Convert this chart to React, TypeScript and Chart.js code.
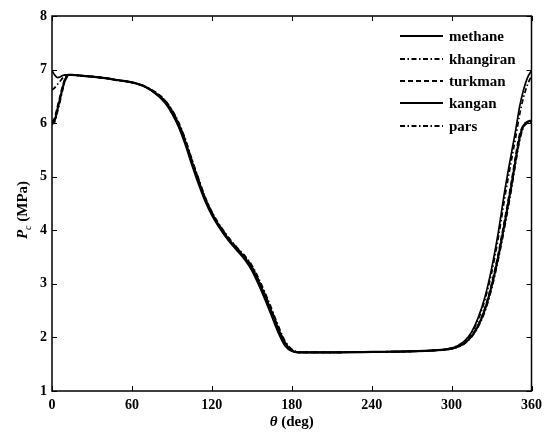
import { useEffect, useRef } from "react";
import { Chart, registerables } from "chart.js";
Chart.register(...registerables);

const thetaDeg = [0, 2, 4, 6, 8, 10, 12, 15, 20, 30, 40, 50, 60, 70, 80, 85, 90, 95, 100, 105, 110, 115, 120, 125, 130, 135, 140, 145, 150, 155, 160, 165, 170, 175, 180, 185, 190, 200, 240, 280, 300, 305, 310, 315, 320, 325, 330, 335, 340, 345, 348, 351, 354, 357, 360];

const methane = [6.0, 6.05, 6.25, 6.45, 6.66, 6.82, 6.9, 6.9, 6.89, 6.87, 6.84, 6.8, 6.76, 6.68, 6.52, 6.4, 6.22, 5.98, 5.66, 5.28, 4.92, 4.58, 4.32, 4.1, 3.92, 3.76, 3.62, 3.48, 3.3, 3.05, 2.77, 2.47, 2.15, 1.89, 1.76, 1.72, 1.72, 1.72, 1.73, 1.75, 1.79, 1.83, 1.9, 2.02, 2.22, 2.52, 2.95, 3.5, 4.15, 4.85, 5.3, 5.72, 5.95, 6.02, 6.05];

const khangiran = [6.62, 6.66, 6.72, 6.78, 6.84, 6.88, 6.9, 6.9, 6.89, 6.87, 6.84, 6.8, 6.76, 6.68, 6.53, 6.42, 6.25, 6.02, 5.71, 5.33, 4.97, 4.62, 4.35, 4.13, 3.95, 3.79, 3.65, 3.52, 3.35, 3.11, 2.83, 2.53, 2.21, 1.93, 1.78, 1.73, 1.72, 1.72, 1.73, 1.75, 1.8, 1.85, 1.93, 2.08, 2.33, 2.7, 3.2, 3.85, 4.62, 5.32, 5.72, 6.15, 6.48, 6.72, 6.88];

const turkman = [6.02, 6.1, 6.3, 6.5, 6.7, 6.84, 6.89, 6.9, 6.89, 6.87, 6.84, 6.8, 6.76, 6.68, 6.54, 6.42, 6.24, 6.0, 5.69, 5.31, 4.95, 4.61, 4.34, 4.12, 3.94, 3.78, 3.64, 3.5, 3.33, 3.08, 2.8, 2.5, 2.18, 1.91, 1.77, 1.72, 1.72, 1.72, 1.73, 1.75, 1.79, 1.83, 1.9, 2.03, 2.24, 2.55, 3.0, 3.56, 4.22, 4.92, 5.38, 5.78, 5.97, 6.03, 6.05];

const kangan = [6.98, 6.9, 6.85, 6.86, 6.89, 6.9, 6.9, 6.9, 6.89, 6.87, 6.84, 6.8, 6.76, 6.68, 6.5, 6.37, 6.18, 5.93, 5.6, 5.22, 4.86, 4.54, 4.28, 4.07, 3.89, 3.73, 3.59, 3.44, 3.25, 2.99, 2.7, 2.39, 2.08, 1.84, 1.74, 1.72, 1.72, 1.72, 1.73, 1.75, 1.8, 1.85, 1.94, 2.1, 2.37, 2.75, 3.28, 3.95, 4.75, 5.45, 5.85, 6.3, 6.62, 6.85, 6.98];

const pars = [5.98, 6.02, 6.2, 6.4, 6.62, 6.8, 6.88, 6.9, 6.89, 6.87, 6.84, 6.8, 6.76, 6.68, 6.51, 6.39, 6.21, 5.97, 5.64, 5.26, 4.9, 4.57, 4.31, 4.09, 3.91, 3.75, 3.61, 3.47, 3.28, 3.03, 2.75, 2.45, 2.13, 1.88, 1.75, 1.72, 1.72, 1.72, 1.73, 1.75, 1.79, 1.82, 1.89, 2.01, 2.2, 2.48, 2.9, 3.45, 4.08, 4.78, 5.24, 5.66, 5.92, 6.0, 6.02];

const seriesNames = ["methane", "khangiran", "turkman", "kangan", "pars"];
const xTickValues = [0, 60, 120, 180, 240, 300, 360];
const yTickValues = [1, 2, 3, 4, 5, 6, 7, 8];

const DASH_DOT = [5, 2.5, 1.5, 2.5];
const DASHED = [5, 3];
const FONT = "'Liberation Serif', 'Times New Roman', serif";

export default function App() {
  const ref = useRef<HTMLCanvasElement>(null);
  useEffect(() => {
    document.body.style.margin = "0";
    const canvas = ref.current!;
    const values = [methane, khangiran, turkman, kangan, pars];
    const dashes = [[], DASH_DOT, DASHED, [], DASH_DOT];
    const widths = [2.2, 1.7, 1.7, 1.7, 1.7];
    const datasets = seriesNames.map((name, k) => ({
      label: name,
      data: thetaDeg.map((t, i) => ({ x: t, y: values[k][i] })),
      borderColor: "#000",
      backgroundColor: "#000",
      borderWidth: widths[k],
      borderDash: dashes[k],
      pointRadius: 0,
      fill: false,
      cubicInterpolationMode: "monotone" as const,
    }));

    const framePlugin = {
      id: "frame",
      afterDraw(chart: any) {
        const { ctx, chartArea: a, scales } = chart;
        ctx.save();
        ctx.strokeStyle = "#000";
        ctx.lineWidth = 1.5;
        ctx.setLineDash([]);
        ctx.strokeRect(a.left, a.top, a.right - a.left, a.bottom - a.top);
        ctx.lineWidth = 1;
        const tl = 5;
        ctx.beginPath();
        xTickValues.forEach((v) => {
          const x = Math.round(scales.x.getPixelForValue(v)) + 0.5;
          ctx.moveTo(x, a.bottom);
          ctx.lineTo(x, a.bottom - tl);
          ctx.moveTo(x, a.top);
          ctx.lineTo(x, a.top + tl);
        });
        yTickValues.forEach((v) => {
          const y = Math.round(scales.y.getPixelForValue(v)) + 0.5;
          ctx.moveTo(a.left, y);
          ctx.lineTo(a.left + tl, y);
          ctx.moveTo(a.right, y);
          ctx.lineTo(a.right - tl, y);
        });
        ctx.stroke();

        // legend
        const lx0 = 400, lx1 = 443, tx = 449;
        const rows = [36, 59, 81, 103, 126];
        ctx.font = `bold 15px ${FONT}`;
        ctx.fillStyle = "#000";
        ctx.textBaseline = "middle";
        ctx.textAlign = "left";
        seriesNames.forEach((name, k) => {
          ctx.beginPath();
          ctx.lineWidth = 2;
          ctx.setLineDash(dashes[k]);
          ctx.moveTo(lx0, rows[k]);
          ctx.lineTo(lx1, rows[k]);
          ctx.stroke();
          ctx.setLineDash([]);
          ctx.fillText(name, tx, rows[k] + 1);
        });

        // x title
        ctx.textBaseline = "alphabetic";
        const cx = (a.left + a.right) / 2;
        ctx.font = `bold italic 15px ${FONT}`;
        const thetaW = ctx.measureText("θ").width;
        ctx.font = `bold 15px ${FONT}`;
        const restW = ctx.measureText(" (deg)").width;
        const sx = cx - (thetaW + restW) / 2;
        ctx.font = `bold italic 15px ${FONT}`;
        ctx.fillText("θ", sx, 426);
        ctx.font = `bold 15px ${FONT}`;
        ctx.fillText(" (deg)", sx + thetaW, 426);

        // y title
        ctx.save();
        ctx.translate(27, 210);
        ctx.rotate(-Math.PI / 2);
        ctx.font = `bold italic 15px ${FONT}`;
        const pW = ctx.measureText("P").width;
        ctx.font = `italic 10px ${FONT}`;
        const cW = ctx.measureText("c").width;
        ctx.font = `bold 15px ${FONT}`;
        const mW = ctx.measureText(" (MPa)").width;
        const yx = -(pW + cW + mW) / 2;
        ctx.font = `bold italic 15px ${FONT}`;
        ctx.fillText("P", yx, 0);
        ctx.font = `italic 10px ${FONT}`;
        ctx.fillText("c", yx + pW, 4);
        ctx.font = `bold 15px ${FONT}`;
        ctx.fillText(" (MPa)", yx + pW + cW, 0);
        ctx.restore();
        ctx.restore();
      },
    };

    const chart = new Chart(canvas, {
      type: "line",
      data: { datasets },
      options: {
        animation: false,
        responsive: false,
        maintainAspectRatio: false,
        layout: { padding: { top: 16, right: 16, bottom: 0, left: 0 } },
        plugins: { legend: { display: false }, tooltip: { enabled: false } },
        scales: {
          x: {
            type: "linear",
            min: 0,
            max: 360,
            afterBuildTicks: (s: any) => {
              s.ticks = xTickValues.map((v) => ({ value: v }));
            },
            afterFit: (s: any) => {
              s.height = 42;
            },
            grid: { display: false, drawTicks: false },
            border: { display: false },
            ticks: {
              color: "#000",
              padding: 6,
              maxRotation: 0,
              font: { family: FONT, size: 14, weight: "bold" },
            },
          },
          y: {
            type: "linear",
            min: 1,
            max: 8,
            afterBuildTicks: (s: any) => {
              s.ticks = yTickValues.map((v) => ({ value: v }));
            },
            afterFit: (s: any) => {
              s.width = 52;
            },
            grid: { display: false, drawTicks: false },
            border: { display: false },
            ticks: {
              color: "#000",
              padding: 5,
              font: { family: FONT, size: 14, weight: "bold" },
            },
          },
        },
      },
      plugins: [framePlugin],
    } as any);
    return () => chart.destroy();
  }, []);
  return (
    <div style={{ width: 548, height: 433, background: "#fff" }}>
      <canvas ref={ref} width={548} height={433} style={{ display: "block" }} />
    </div>
  );
}
